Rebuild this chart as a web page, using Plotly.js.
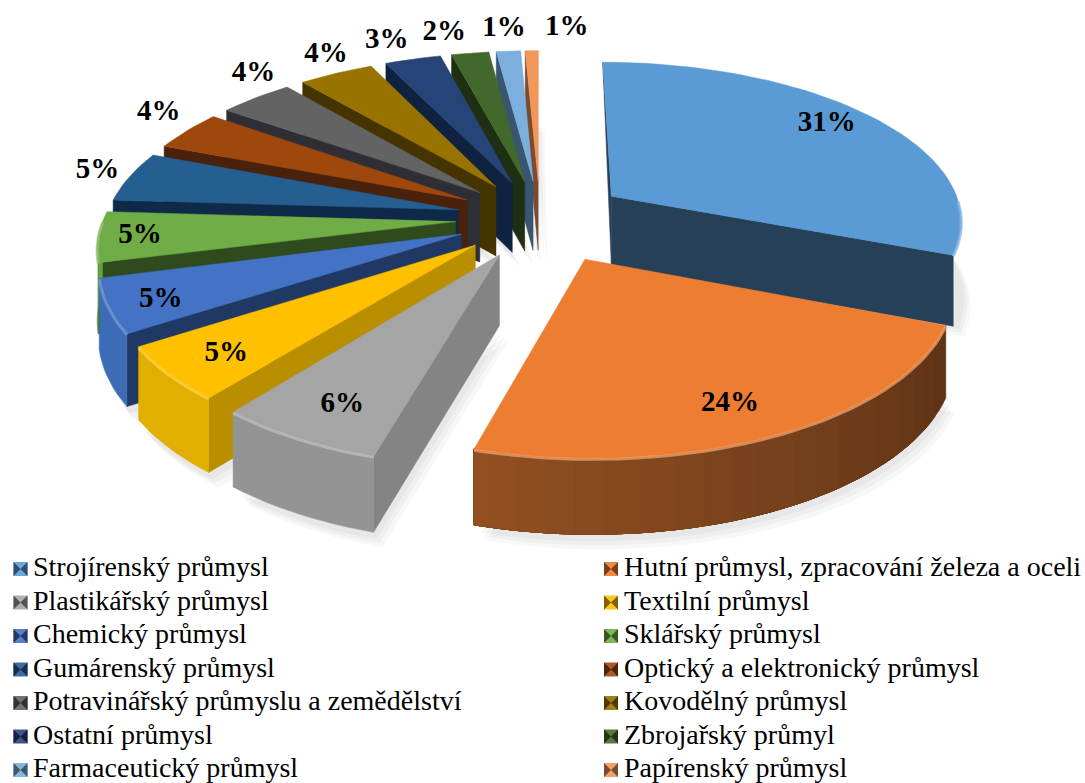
<!DOCTYPE html>
<html><head><meta charset="utf-8">
<script src="https://cdn.plot.ly/plotly-3.0.1.min.js"></script>
<style>html,body{margin:0;padding:0;background:#fff}</style></head>
<body><div id="chart" style="width:1085px;height:783px"></div>
<script>
const categories=["Strojírenský průmysl","Hutní průmysl, zpracování železa a oceli","Plastikářský průmysl","Textilní průmysl","Chemický průmysl","Sklářský průmysl","Gumárenský průmysl","Optický a elektronický průmysl","Potravinářský průmyslu a zemědělství","Kovodělný průmysl","Ostatní průmysl","Zbrojařský průmyl","Farmaceutický průmysl","Papírenský průmysl"];
const values=[31,23.5,6.4,5.1,5,5,5,4,4,4,3,2,1.3,0.7];
const topColors=["#5B9BD5","#ED7D31","#A5A5A5","#FFC000","#4472C4","#70AD47","#255E91","#9E480E","#636363","#997300","#264478","#43682B","#7CAFDD","#F1975A"];
const radialColors=["#264058","#6b3512","#848484","#b98f00","#203864","#2f4b1e","#0f2a48","#4a210a","#2d2f35","#453300","#0f2240","#1e2f13","#3a5570","#7a4b30"];
const wallColors=["#4b82b3","#8a4b20","#8c8c8c","#d4a500","#3a66ad","#5d9a3a","#1f4f7a","#84390a","#545454","#806000","#1f3864","#38571f","#6a96bf","#c97f4c"];
const pulls=[0.25,0.28,0.24,0.24,0.24,0.24,0.24,0.24,0.24,0.24,0.24,0.24,0.24,0.24];
const yScales=[1,1,1.06,1.05,1.05,1,1,1,1,1,1,1,1,1];
const labelAngles=[53.3,155.8,206.5,227.2,245.1,264.2,283.5,302,319.2,329.8,338.4,346.5,355.1,364.6];
const labelRadii=[0.85,0.83,0.83,0.84,0.865,0.884,1.108,1.16,1.16,1.156,1.18,1.2,1.2,1.204];

const CX=540,CY=218,R=352,K=0.45,A=0.14,H=70,W=1085,Ht=783;
const rad=d=>d*Math.PI/180;
function proj(X,Y,down){const s=1/(1-A*Y);return [CX+R*s*X,CY+R*K*s*Y+(down?H*(1+(s-1)*0.4):0)];}
function at(i,mid,r,t,down){return proj(pulls[i]*Math.sin(rad(mid))+r*Math.sin(rad(t)),(-pulls[i]*Math.cos(rad(mid))-r*Math.cos(rad(t)))*yScales[i],down);}
function poly(pts,color,extra){return Object.assign({type:"scatter",mode:"lines",x:pts.map(p=>p[0]),y:pts.map(p=>p[1]),fill:"toself",fillcolor:color,line:{color:color,width:0.5},hoverinfo:"skip",showlegend:false},extra||{});}
function hex(c){return [1,3,5].map(j=>parseInt(c.substr(j,2),16));}
function shade(c,f){return "rgb("+hex(c).map(v=>Math.min(255,Math.round(v*f))).join(",")+")";}
function mix(c,w){return "rgb("+hex(c).map(v=>Math.round(v+(255-v)*w)).join(",")+")";}
const total=values.reduce((a,b)=>a+b,0);
let cum=0;const slices=values.map((v,i)=>{const a0=cum/total*360;cum+=v;const a1=cum/total*360;return{i,a0,a1,mid:(a0+a1)/2};});
const order=[13,12,11,10,9,8,7,6,5,4,3,2,0,1];
const traces=[];
// soft shadow
[[3,7],[6,11],[9,15]].forEach(o=>{
  slices.forEach(s=>{const i=s.i,pts=[at(i,s.mid,0,0,true)];
    for(let t=s.a0;t<=s.a1+0.01;t+=2)pts.push(at(i,s.mid,1,Math.min(t,s.a1),true));
    pts.push(pts[0]);
    traces.push(poly(pts.map(p=>[p[0]+o[0],p[1]+o[1]]),"rgba(120,120,120,0.06)",{line:{width:0}}));
  });
});
order.forEach(i=>{const s=slices[i];
  const n=Math.max(4,Math.ceil((s.a1-s.a0)/2));const arc=[],arcD=[],ts=[];
  for(let j=0;j<=n;j++){const t=s.a0+(s.a1-s.a0)*j/n;ts.push(t);arc.push(at(i,s.mid,1,t));arcD.push(at(i,s.mid,1,t,true));}
  const ap=at(i,s.mid,0,0),apD=at(i,s.mid,0,0,true);
  if(s.mid<90){
    traces.push(poly([ap,arc[0],apD,ap],radialColors[i]));
    traces.push(poly([ap,arc[n],arcD[n],apD,ap],radialColors[i]));
  }else{
    if(s.mid>180)traces.push(poly([ap,arc[0],arcD[0],apD,ap],radialColors[i]));
    // outer wall, painted in overlapping steps so no seams show
    let lastF=null;
    for(let j=0;j<n;j++){const m=(ts[j]+ts[j+1])/2;if(m<90||m>270)continue;
      const f=Math.round(Math.max(0.68,Math.min(1.05,0.68+0.37*(m-115)/80))*50)/50;
      if(f===lastF)continue;lastF=f;
      let jEnd=n;while(jEnd>j&&ts[jEnd]>270)jEnd--;
      traces.push(poly(arc.slice(j,jEnd+1).concat(arcD.slice(j,jEnd+1).reverse(),[arc[j]]),shade(wallColors[i],f)));
    }
  }
  traces.push(poly([ap].concat(arc,[ap]),topColors[i]));
  const hi=arc.filter((p,j)=>ts[j]>=90&&ts[j]<=270);
  if(hi.length>1)traces.push({type:"scatter",mode:"lines",x:hi.map(p=>p[0]),y:hi.map(p=>p[1]+1),line:{color:mix(topColors[i],0.28),width:3},opacity:0.75,hoverinfo:"skip",showlegend:false});
});
// data labels
const lp=slices.map(s=>at(s.i,s.mid,labelRadii[s.i],labelAngles[s.i]));
traces.push({type:"scatter",mode:"text",x:lp.map(p=>p[0]),y:lp.map(p=>p[1]),text:values.map(v=>Math.max(1,Math.round(v/total*100+1e-9))+"%"),textposition:"middle center",textfont:{family:"Liberation Serif",size:29,color:"#000",weight:700},hoverinfo:"skip",showlegend:false});
// legend
const colX=[20.5,611],txtX=[33,624],rowY=[569,602.5,636,669.5,703,736.5,770];
const lx=categories.map((c,i)=>colX[i%2]),ly=categories.map((c,i)=>rowY[Math.floor(i/2)]);
traces.push({type:"scatter",mode:"markers",x:lx,y:ly,marker:{symbol:"square",size:14,color:topColors.map(c=>mix(c,0.1)),line:{width:0}},hoverinfo:"skip",showlegend:false});
traces.push({type:"scatter",mode:"markers",x:lx,y:ly,marker:{symbol:"bowtie",size:14,color:topColors.map(c=>shade(c,0.5)),line:{width:0}},hoverinfo:"skip",showlegend:false});
traces.push({type:"scatter",mode:"text",x:categories.map((c,i)=>txtX[i%2]),y:ly,text:categories,textposition:"middle right",textfont:{family:"Liberation Serif",size:28,color:"#000"},hoverinfo:"skip",showlegend:false});
const layout={width:W,height:Ht,margin:{l:0,r:0,t:0,b:0},paper_bgcolor:"#fff",plot_bgcolor:"#fff",showlegend:false,
  xaxis:{range:[0,W],visible:false,fixedrange:true},yaxis:{range:[Ht,0],visible:false,fixedrange:true}};
Plotly.newPlot("chart",traces,layout,{displayModeBar:false,staticPlot:true});
</script></body></html>
